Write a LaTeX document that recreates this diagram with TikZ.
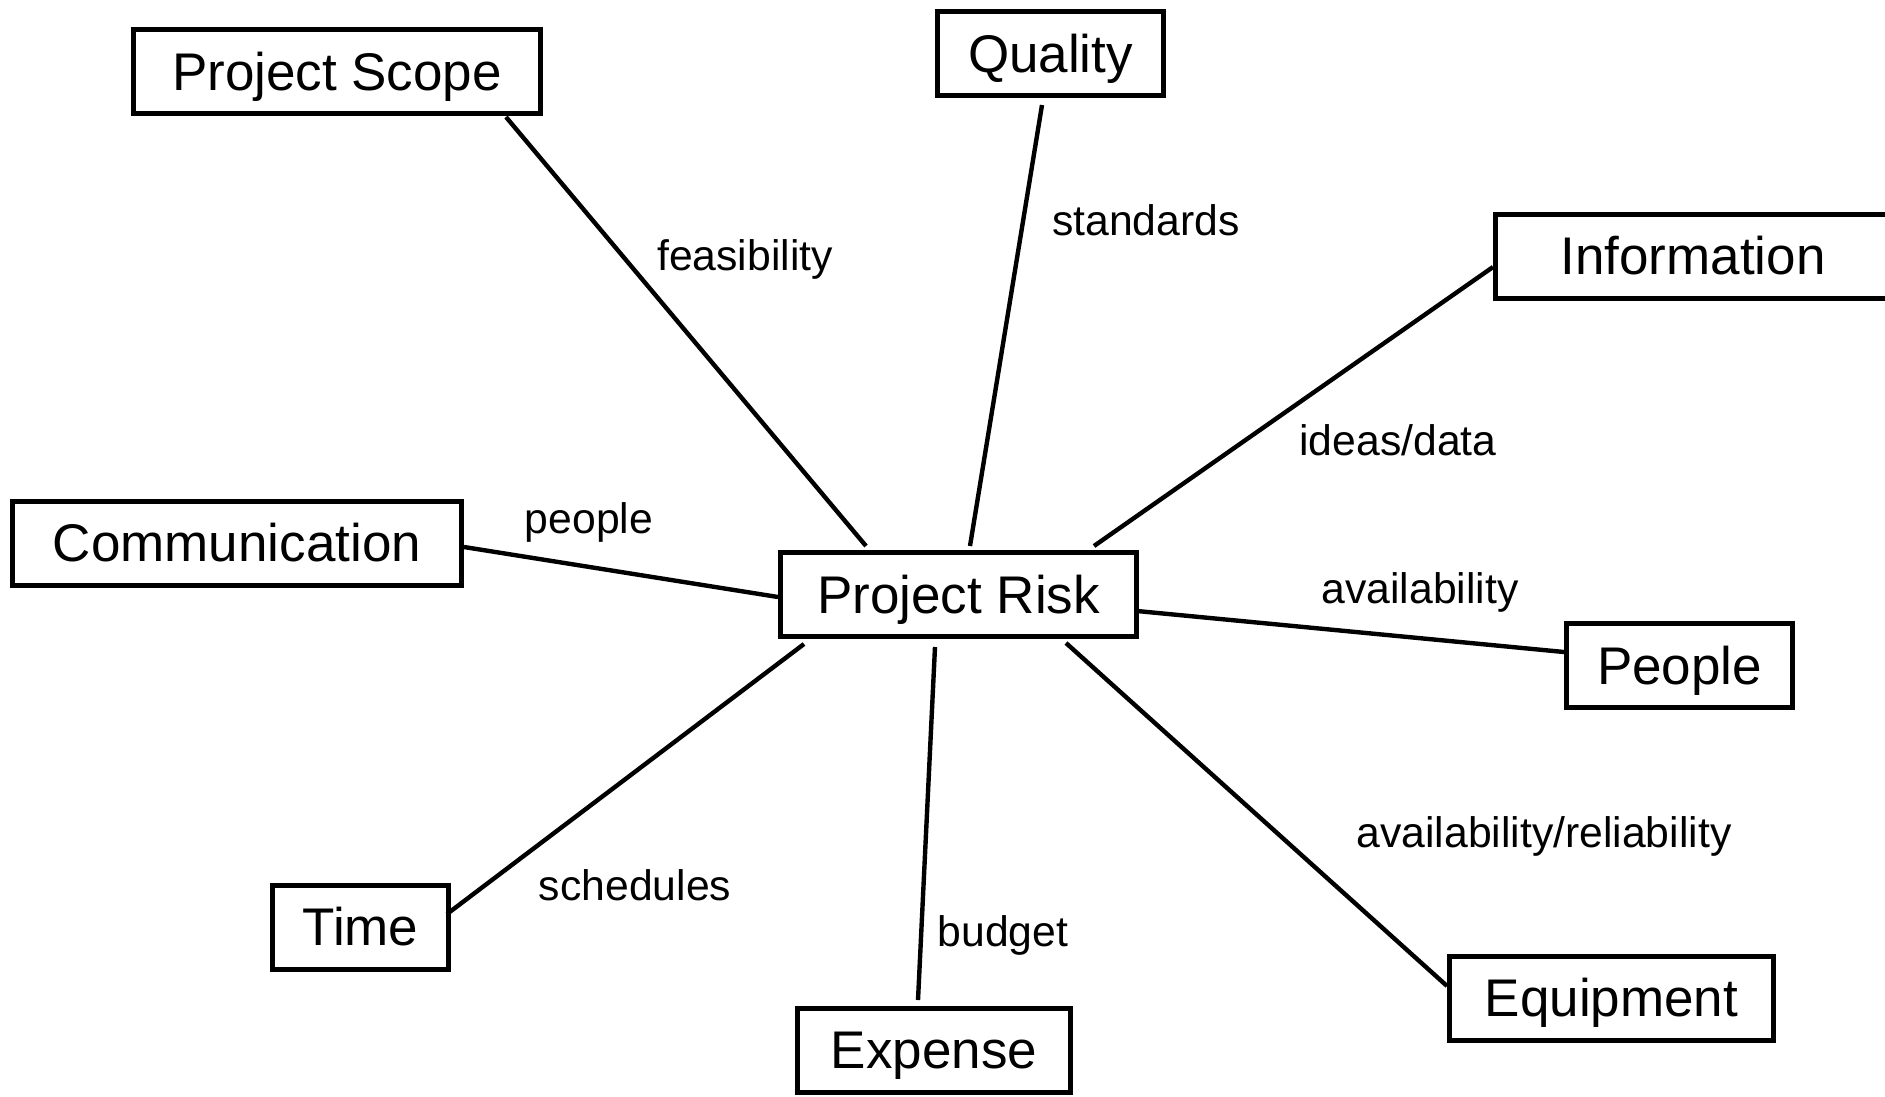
\documentclass[tikz,border=0pt]{standalone}
\usepackage{fontspec}
\setmainfont{Liberation Sans}
\usetikzlibrary{calc}
\tikzset{
  box/.style={draw=black, line width=5pt, fill=white, inner sep=0pt, minimum height=84pt,
    text height=37pt, text depth=0pt, font=\fontsize{53}{60}\selectfont},
  link/.style={draw=black, line width=4.4pt},
  lbl/.style={inner sep=0pt, text height=30.6pt, text depth=0pt, font=\fontsize{42.7}{48}\selectfont}
}
\begin{document}
\begin{tikzpicture}[x=1pt, y=-1pt]
\clip (0,0) rectangle (1885,1096);
\fill[white] (0,0) rectangle (1885,1096);
% nodes
\node[box, minimum width=407pt] (scope) at (337,71.5) {Project Scope};
\node[box, minimum width=226pt] (quality) at (1050.5,53.5) {Quality};
\node[box, minimum width=395pt] (info) at (1693,256) {Information};
\node[box, minimum width=449pt] (comm) at (237,543) {Communication};
\node[box, minimum width=356pt] (risk) at (958.5,594.5) {Project Risk};
\node[box, minimum width=226pt] (people) at (1679.5,665.5) {People};
\node[box, minimum width=176pt] (time) at (360.5,927) {Time};
\node[box, minimum width=273pt] (expense) at (934,1050) {Expense};
\node[box, minimum width=324pt] (equip) at (1611.5,998) {Equipment};
% connectors
\draw[link] ($(scope)+(169,45.5)$) -- ($(risk)+(-92.5,-48.5)$);
\draw[link] ($(quality)+(-8.5,51.5)$) -- ($(risk)+(11.5,-48.5)$);
\draw[link] ($(info)+(-200,11)$) -- ($(risk)+(135.5,-48.5)$);
\draw[link] ($(comm)+(227,4)$) -- ($(risk)+(-180.5,2.5)$);
\draw[link] ($(risk)+(178.5,16.5)$) -- ($(people)+(-115.5,-13.5)$);
\draw[link] ($(risk)+(107.5,48.5)$) -- ($(equip)+(-164.5,-12)$);
\draw[link] ($(risk)+(-23.5,52.5)$) -- ($(expense)+(-16,-50)$);
\draw[link] ($(risk)+(-154.5,49.5)$) -- ($(time)+(86.5,-13)$);
% labels
\node[lbl] (l1) at (745,255) {feasibility};
\node[lbl] (l2) at (1146,220) {standards};
\node[lbl] (l3) at (1398,440) {ideas/data};
\node[lbl] (l4) at (589,518) {people};
\node[lbl] (l5) at (1420,588) {availability};
\node[lbl] (l6) at (1544,832) {availability/reliability};
\node[lbl] (l7) at (635,885) {schedules};
\node[lbl] (l8) at (1003,931) {budget};
\end{tikzpicture}
\end{document}
